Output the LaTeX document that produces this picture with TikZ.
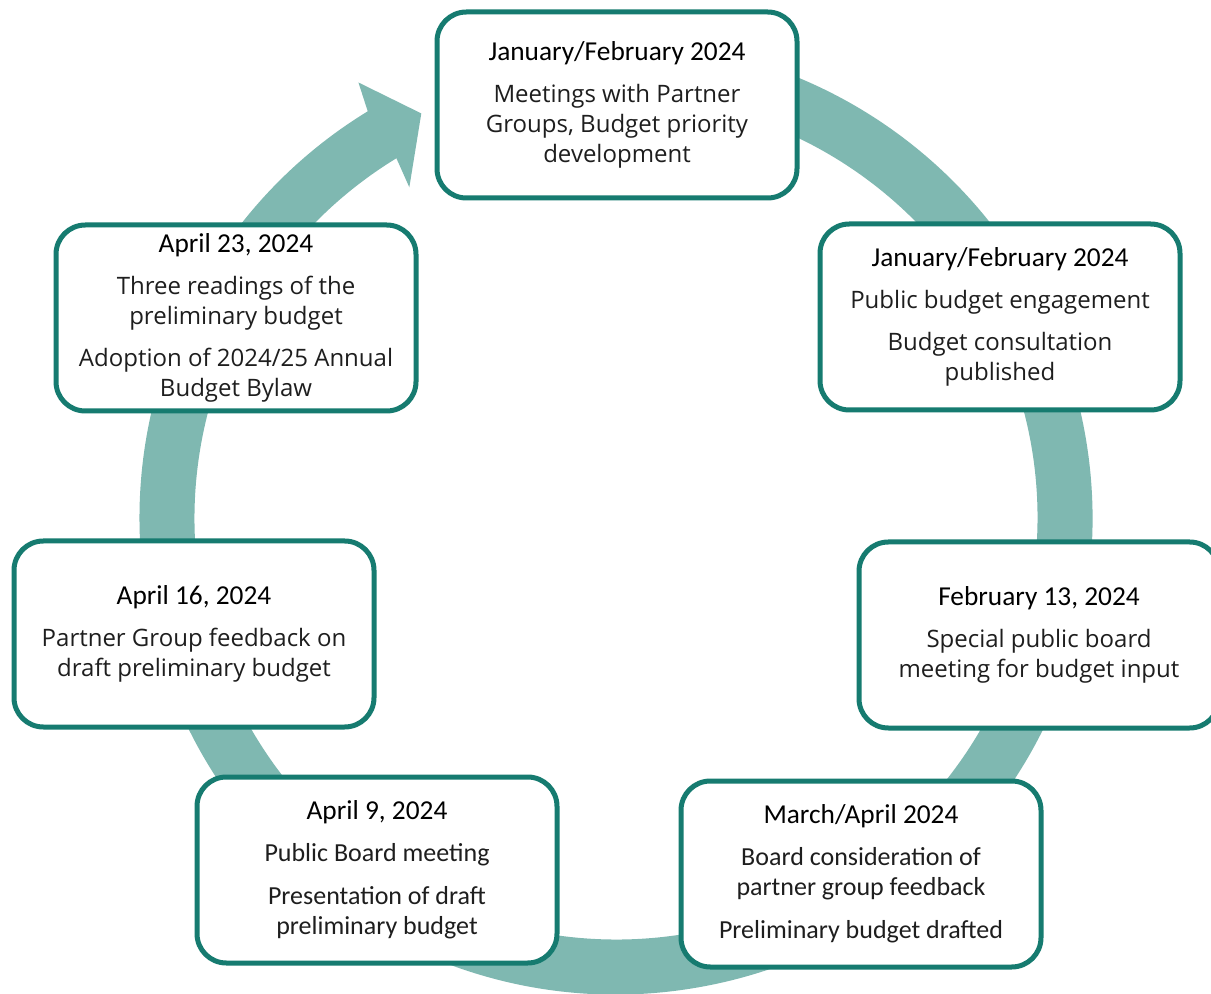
\documentclass[tikz,border=0pt]{standalone}
\usepackage{fontspec}
\setmainfont{Carlito}
\newfontfamily\osans{Open Sans}
\definecolor{ringc}{HTML}{7FB8B1}
\definecolor{edgec}{HTML}{167B70}
\definecolor{bodyc}{HTML}{1E1E1E}
\newcommand\ttl[1]{{\rmfamily\color{black}\fontsize{20.5}{22.5}\selectfont #1}}
\begin{document}
\begin{tikzpicture}[x=0.75pt,y=0.75pt,
  stagebox/.style={draw=edgec, line width=3.75pt, fill=white, rounded corners=22pt,
    minimum width=270pt, minimum height=139.5pt, align=center, inner sep=0pt, text=bodyc},
  segoe/.style={font=\osans\fontsize{18}{22.5}\selectfont},
  calib/.style={font=\rmfamily\fontsize{19.5}{22.5}\selectfont}]
\clip (0,0) rectangle (1211,-994);
\fill[white] (0,0) rectangle (1211,-994);
% circular arrow
\begin{scope}[shift={(616,-518)}]
\fill[ringc] (100:476.5) arc[start angle=100, end angle=-238.6, radius=357.375pt]
  -- (-239.4:506) -- (-244.3:449) -- (-238:390) -- (-238.6:421.5)
  arc[start angle=-238.6, end angle=100, radius=316.125pt] -- cycle;
\end{scope}
% stages
\node[stagebox, segoe] (s1) at (617,-105) {\ttl{January/February 2024}\\[9pt]Meetings with Partner\\Groups, Budget priority\\development};
\node[stagebox, segoe] (s2) at (1000,-317) {\ttl{January/February 2024}\\[9pt]Public budget engagement\\[9.5pt]Budget consultation\\published};
\node[stagebox, segoe] (s3) at (1039,-635) {\ttl{February 13, 2024}\\[9pt]Special public board\\meeting for budget input};
\node[stagebox, calib] (s4) at (861,-874) {\ttl{March/April 2024}\\[9pt]Board consideration of\\partner group feedback\\[9.5pt]Preliminary budget drafted};
\node[stagebox, calib] (s5) at (377,-870) {\ttl{April 9, 2024}\\[9pt]Public Board meeting\\[9.5pt]Presentation of draft\\preliminary budget};
\node[stagebox, segoe] (s6) at (194,-634) {\ttl{April 16, 2024}\\[9pt]Partner Group feedback on\\draft preliminary budget};
\node[stagebox, segoe] (s7) at (236,-318) {\ttl{April 23, 2024}\\[9pt]Three readings of the\\preliminary budget\\[9.5pt]Adoption of 2024/25 Annual\\Budget Bylaw};
\end{tikzpicture}
\end{document}
